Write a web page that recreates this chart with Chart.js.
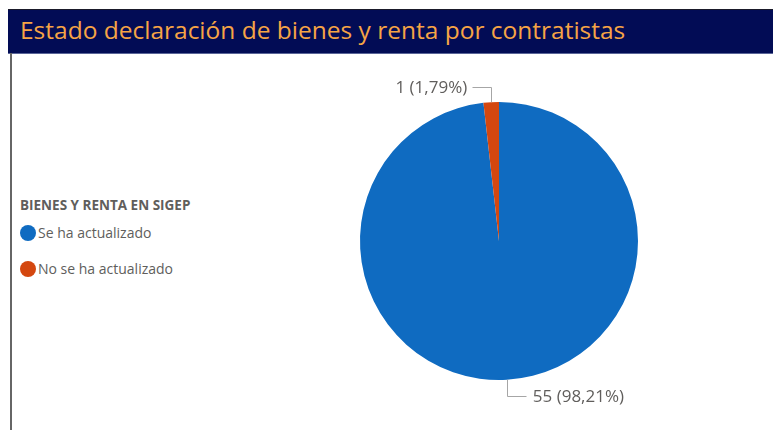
<!DOCTYPE html>
<html>
<head>
<meta charset="utf-8">
<script src="https://cdn.jsdelivr.net/npm/chart.js"></script>
<style>
  body { margin: 0; background: #fff; width: 773px; height: 430px; overflow: hidden; position: relative; font-family: "Open Sans", sans-serif; }
  #titulo { position: absolute; left: 8px; top: 9px; width: 765px; height: 43px; background: #020c55; border-top: 1px solid #1a1a2a; border-bottom: 1px solid #5a6598; }
  #titulo span { position: absolute; left: 12px; top: 3px; color: #f6a445; font-size: 24.5px; white-space: nowrap; }
  #borde { position: absolute; left: 10px; top: 53px; width: 2px; height: 377px; background: #666; }
  #leyenda { position: absolute; left: 20px; top: 196px; color: #605e5c; font-size: 14px; }
  #leyenda .tit { font-weight: bold; font-size: 13.5px; margin-bottom: 9px; }
  #leyenda .item { height: 36px; line-height: 20px; position: relative; padding-left: 18px; }
  #leyenda .dot { position: absolute; left: 0; top: 2px; width: 16px; height: 16px; border-radius: 50%; }
  #lienzo { position: absolute; left: 12px; top: 54px; }
</style>
</head>
<body>
<div id="titulo"><span>Estado declaración de bienes y renta por contratistas</span></div>
<div id="borde"></div>
<div id="leyenda"></div>
<div id="lienzo"><canvas id="myChart01" width="761" height="376"></canvas></div>
<script>
var tituloLeyenda = "BIENES Y RENTA EN SIGEP";
var etiquetas = ["Se ha actualizado", "No se ha actualizado"];
var datos = [55, 1];
var colores = ["#0f6bc1", "#d4470f"];

// leyenda en html
var ley = document.getElementById("leyenda");
var html = '<div class="tit">' + tituloLeyenda + '</div>';
for (var i = 0; i < etiquetas.length; i++) {
    html += '<div class="item"><span class="dot" style="background:' + colores[i] + '"></span>' + etiquetas[i] + '</div>';
}
ley.innerHTML = html;

// etiquetas con linea guia
var etiquetasPie = {
    id: 'etiquetasPie',
    afterDatasetsDraw: function (chart) {
        var ctx = chart.ctx;
        var meta = chart.getDatasetMeta(0);
        var total = datos.reduce(function (a, b) { return a + b; }, 0);
        ctx.save();
        ctx.font = '17px "Open Sans"';
        ctx.textBaseline = 'middle';
        meta.data.forEach(function (arc, i) {
            var p = arc.getProps(['x', 'y', 'startAngle', 'endAngle', 'outerRadius']);
            var ang = (p.startAngle + p.endAngle) / 2;
            var x0 = p.x + Math.cos(ang) * p.outerRadius;
            var y0 = p.y + Math.sin(ang) * p.outerRadius;
            var dy = y0 < p.y ? -15 : 16;
            var dx = x0 < p.x ? -19 : 19;
            ctx.strokeStyle = '#a6a6a6';
            ctx.lineWidth = 1;
            ctx.beginPath();
            ctx.moveTo(Math.round(x0) + 0.5, y0);
            ctx.lineTo(Math.round(x0) + 0.5, Math.round(y0 + dy) + 0.5);
            ctx.lineTo(Math.round(x0 + dx) + 0.5, Math.round(y0 + dy) + 0.5);
            ctx.stroke();
            var pct = (datos[i] / total * 100).toFixed(2).replace('.', ',');
            var txt = datos[i] + ' (' + pct + '%)';
            ctx.fillStyle = '#605e5c';
            ctx.textAlign = dx < 0 ? 'right' : 'left';
            ctx.fillText(txt, x0 + dx + (dx < 0 ? -5 : 7), y0 + dy + 1);
        });
        ctx.restore();
    }
};

var ctx = document.getElementById("myChart01");
var myChart1 = new Chart(ctx, {
    type: 'pie',
    data: {
        labels: etiquetas,
        datasets: [{
            data: datos,
            backgroundColor: colores,
            borderWidth: 0
        }]
    },
    options: {
        responsive: false,
        animation: false,
        layout: {
            padding: { top: 48, bottom: 50, left: 300, right: 87 }
        },
        plugins: {
            legend: { display: false },
            tooltip: { enabled: false }
        }
    },
    plugins: [etiquetasPie]
});
</script>
</body>
</html>
